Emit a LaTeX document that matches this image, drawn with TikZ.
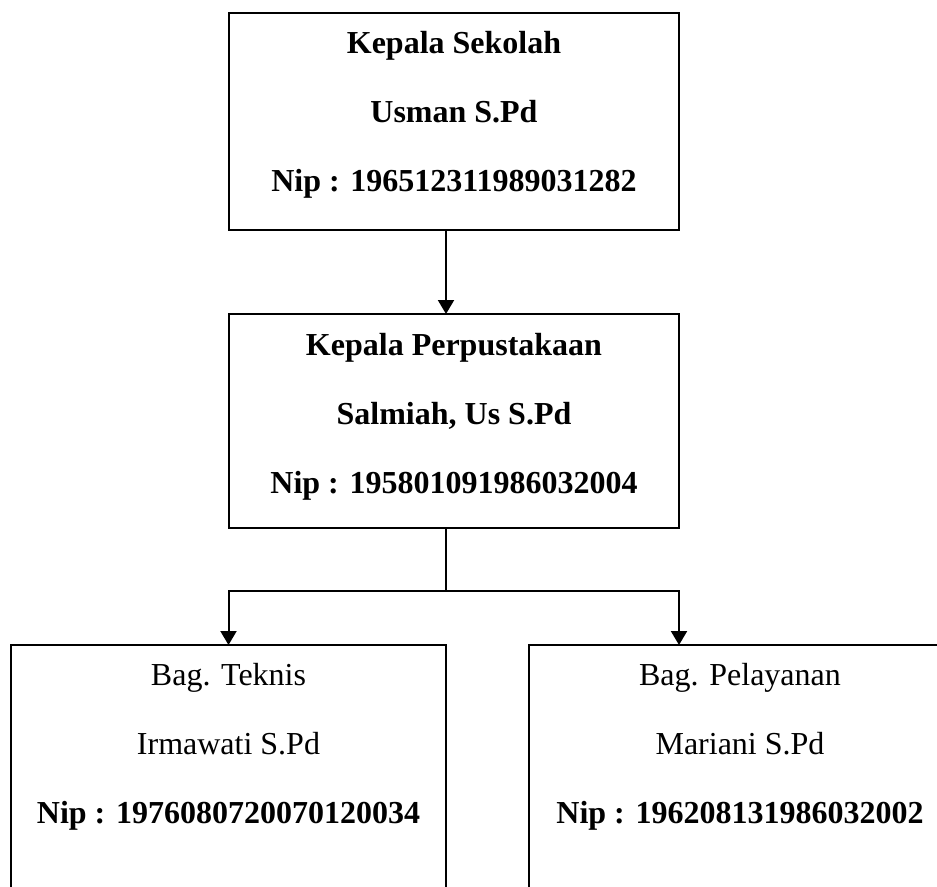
\documentclass[tikz,border=0pt]{standalone}
\usepackage{fontspec}
\setmainfont{Liberation Serif}
\usetikzlibrary{arrows.meta,calc}
\tikzset{>={Triangle[width=12pt,length=10.5pt]}}
\newcommand\awal[1]{\rule{0pt}{#1}}
\newcommand\akhir[1]{\rule[-#1]{0pt}{#1}}
\tikzset{
  kotak/.style={draw,line width=1.5pt,align=center,inner sep=0pt,
    outer sep=0pt,anchor=north,font=\fontsize{24pt}{51.75pt}\selectfont},
  tebal/.style={font=\fontsize{24pt}{51.75pt}\selectfont\bfseries},
  garis/.style={line width=1.5pt}
}

\begin{document}
\begin{tikzpicture}[x=0.75pt,y=-0.75pt]
  \path[use as bounding box] (0,0) rectangle (937,886);
  \clip (0,0) rectangle (937,886);
  \node[kotak,tebal,minimum width=337.5pt] (kepsek) at (454,12.5)
    {\awal{30.75pt}Kepala Sekolah\\Usman S.Pd\\Nip : 196512311989031282\akhir{28.5pt}};
  \node[kotak,tebal,minimum width=337.5pt] (kapus) at (454,314)
    {\awal{30.75pt}Kepala Perpustakaan\\Salmiah, Us S.Pd\\Nip : 195801091986032004\akhir{26.25pt}};
  \node[kotak,minimum width=326.25pt] (teknis) at (228.5,645)
    {\awal{30pt}Bag. Teknis\\Irmawati S.Pd\\\textbf{Nip : 1976080720070120034}\akhir{300pt}};
  \node[kotak,minimum width=316.5pt] (layanan) at (740,645)
    {\awal{30pt}Bag. Pelayanan\\Mariani S.Pd\\\textbf{Nip : 196208131986032002}\akhir{300pt}};
  % garis penghubung
  \draw[garis,->] ($(kepsek.south)+(-8,0)$) -- ($(kapus.north)+(-8,0)$);
  \coordinate (cabang) at ($(kapus.south)+(-8,63)$);
  \coordinate (masuk) at ($(layanan.north west)+(150,0)$);
  \draw[garis] ($(kapus.south)+(-8,0)$) -- (cabang);
  \draw[garis,->] (cabang) -| (teknis.north);
  \draw[garis,->] (cabang) -| (masuk);
\end{tikzpicture}
\end{document}
